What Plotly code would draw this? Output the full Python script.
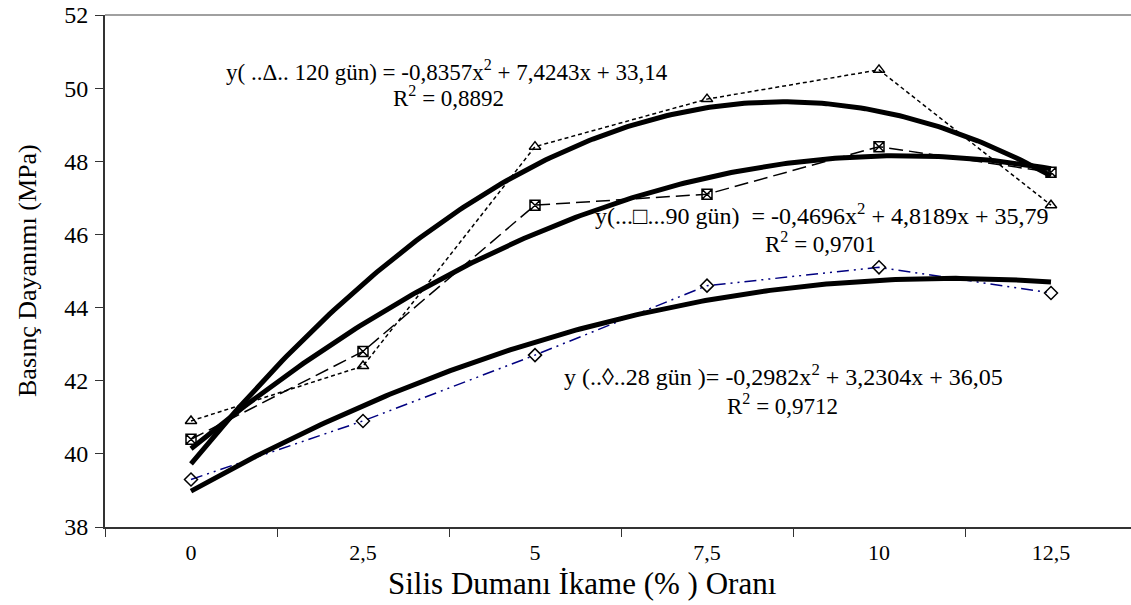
import numpy as np
import plotly.graph_objects as go

# ---- data ----
categories = ["0", "2,5", "5", "7,5", "10", "12,5"]
x_index = [1, 2, 3, 4, 5, 6]
d120 = [40.9, 42.4, 48.4, 49.7, 50.5, 46.8]
d90 = [40.4, 42.8, 46.8, 47.1, 48.4, 47.7]
d28 = [39.3, 40.9, 42.7, 44.6, 45.1, 44.4]

# polynomial trendline coefficients shown on the chart (a, b, c) and R²
coef120 = [-0.8357, 7.4243, 33.14]
coef90 = [-0.4696, 4.8189, 35.79]
coef28 = [-0.2982, 3.2304, 36.05]
r2_120, r2_90, r2_28 = "0,8892", "0,9701", "0,9712"

y_ticks = [38, 40, 42, 44, 46, 48, 50, 52]

# ---- layout geometry (window pixels) ----
W, H = 1131, 605
PL, PT, PB, PR = 105, 15, 527, 1131       # plot area in window pixels
L, T, B, R = PL, PT, H - PB, W - PR
SP = 172.0                                # category spacing
x_lo = 0.5
x_hi = 0.5 + (PR - PL) / SP
pw, ph = PR - PL, PB - PT


def px(xp):
    return (xp - PL) / pw


def py(yp):
    return (PB - yp) / ph


FONT = "Liberation Serif"

fig = go.Figure()

fig.add_trace(go.Scatter(
    x=x_index, y=d120, mode="lines+markers",
    line=dict(color="black", width=1.5, dash="4px,3px"),
    marker=dict(symbol="triangle-up-open", size=10, color="black",
                line=dict(width=1.5, color="black")),
    showlegend=False))
fig.add_trace(go.Scatter(
    x=x_index, y=d90, mode="lines+markers",
    line=dict(color="black", width=1.5, dash="14px,6px"),
    marker=dict(symbol="square-x-open", size=10, color="black",
                line=dict(width=1.5, color="black")),
    showlegend=False))
fig.add_trace(go.Scatter(
    x=x_index, y=d28, mode="lines+markers",
    line=dict(color="#000080", width=1.5, dash="12px,5px,2px,5px,2px,5px"),
    marker=dict(symbol="diamond-open", size=10, color="black",
                line=dict(width=1.5, color="black")),
    showlegend=False))

xs = np.linspace(x_index[0], x_index[-1], 200)
for c in (coef120, coef90, coef28):
    fig.add_trace(go.Scatter(
        x=xs, y=np.polyval(c, xs), mode="lines",
        line=dict(color="black", width=5), showlegend=False,
        hoverinfo="skip"))


def fmt(v):
    return ("%g" % v).replace(".", ",")


def eq(prefix, c):
    a, b, k = c
    return "%s -%sx<sup>2</sup> + %sx + %s" % (
        prefix, fmt(abs(a)), fmt(b), fmt(k))


texts = [
    (eq("y( ..Δ.. 120 gün) =", coef120), 447, 70, 23),
    ("R<sup>2</sup> = " + r2_120, 448, 96, 23),
    (eq("y(...□...90 gün)&nbsp; =", coef90), 821, 214, 24),
    ("R<sup>2</sup> = " + r2_90, 820, 242, 23),
    (eq("y (..◊..28 gün )=", coef28), 783, 375, 24),
    ("R<sup>2</sup> = " + r2_28, 782, 404, 23),
]
anns = []
for t, xp, yp, fs in texts:
    anns.append(dict(text=t, x=px(xp), y=py(yp), xref="paper", yref="paper",
                     showarrow=False, xanchor="center", yanchor="middle",
                     font=dict(family=FONT, size=fs, color="black")))

anns.append(dict(text="Basınç Dayanımı (MPa)", x=px(27), y=py(271),
                 xref="paper", yref="paper", showarrow=False, textangle=-90,
                 xanchor="center", yanchor="middle",
                 font=dict(family=FONT, size=26, color="black")))
anns.append(dict(text="Silis Dumanı İkame (% ) Oranı", x=px(582), y=py(583),
                 xref="paper", yref="paper", showarrow=False,
                 xanchor="center", yanchor="middle",
                 font=dict(family=FONT, size=31, color="black")))

fig.update_layout(
    width=W, height=H,
    margin=dict(l=L, r=R, t=T, b=B, pad=0, autoexpand=False),
    paper_bgcolor="white", plot_bgcolor="white",
    annotations=anns,
    shapes=[dict(type="line", xref="paper", yref="paper", x0=0, x1=1,
                 y0=1, y1=1, line=dict(color="#a0a0a0", width=2))],
    xaxis=dict(range=[x_lo, x_hi], tickvals=x_index, ticktext=categories,
               ticks="", showgrid=False, zeroline=False, automargin=False,
               showline=True, linecolor="#333333", linewidth=2,
               tickfont=dict(family=FONT, size=22, color="black"),
               ticklabelstandoff=5,
               minor=dict(tickvals=[0.5, 1.5, 2.5, 3.5, 4.5, 5.5, 6.5],
                          ticks="outside", ticklen=8, tickcolor="#333333",
                          tickwidth=1, showgrid=False)),
    yaxis=dict(range=[38, 52], tickvals=y_ticks, ticks="outside",
               ticklen=8, tickcolor="#333333", tickwidth=1, automargin=False,
               showgrid=False, zeroline=False, showline=True,
               linecolor="#333333", linewidth=2,
               tickfont=dict(family=FONT, size=24, color="black"),
               ticklabelstandoff=2),
)

fig.write_html(
    "out.html",
    config={"displayModeBar": False},
    post_script="document.body.style.margin='0px';"
                "document.body.style.overflow='hidden';")
